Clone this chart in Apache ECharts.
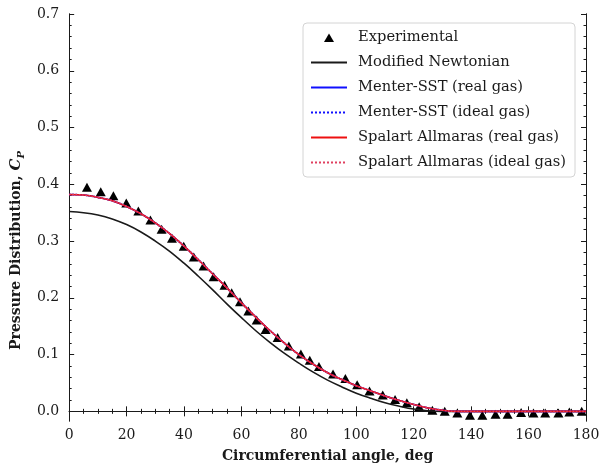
<!DOCTYPE html>
<html><head><meta charset="utf-8">
<script src="https://cdn.jsdelivr.net/npm/echarts@6/dist/echarts.min.js"></script>
<style>html,body{margin:0;padding:0;background:#fff}#c{width:606px;height:470px}</style>
</head><body><div id="c"></div>
<script>
// ---------- data ----------
const expAngle = [6.2, 11.0, 15.4, 19.9, 24.1, 28.3, 32.2, 35.8, 39.9, 43.4, 46.8, 50.3, 54.1, 56.6, 59.5, 62.4, 65.3, 68.4, 72.6, 76.5, 80.7, 83.8, 87.0, 91.9, 96.2, 100.3, 104.6, 109.2, 113.5, 117.6, 121.9, 126.5, 130.8, 135.2, 139.6, 143.9, 148.5, 152.7, 157.4, 161.7, 165.8, 170.4, 174.2, 178.5];
const expCp    = [0.395, 0.387, 0.380, 0.367, 0.353, 0.337, 0.321, 0.305, 0.291, 0.272, 0.256, 0.237, 0.222, 0.209, 0.193, 0.177, 0.161, 0.144, 0.130, 0.115, 0.101, 0.090, 0.079, 0.066, 0.058, 0.047, 0.036, 0.029, 0.021, 0.015, 0.008, 0.002, 0.000, -0.003, -0.007, -0.007, -0.005, -0.005, -0.002, -0.003, -0.003, -0.003, -0.001, 0.000];

const curveAngle = [0, 5, 10, 15, 20, 25, 30, 35, 40, 45, 50, 55, 60, 65, 70, 75, 80, 85, 90, 95, 100, 105, 110, 115, 120, 125, 130, 135, 140, 150, 160, 170, 180];
const newtonian   = [0.352, 0.350, 0.346, 0.339, 0.329, 0.316, 0.300, 0.282, 0.261, 0.238, 0.214, 0.189, 0.165, 0.142, 0.121, 0.102, 0.085, 0.069, 0.055, 0.043, 0.032, 0.023, 0.015, 0.009, 0.004, 0.001, 0.000, 0.000, 0.000, 0.000, 0.000, 0.000, 0.000];
const menterReal  = [0.382, 0.381, 0.377, 0.371, 0.361, 0.348, 0.332, 0.313, 0.291, 0.267, 0.242, 0.217, 0.191, 0.166, 0.142, 0.120, 0.100, 0.083, 0.068, 0.056, 0.045, 0.036, 0.027, 0.019, 0.012, 0.006, 0.002, 0.000, 0.000, 0.000, 0.000, 0.000, 0.000];
const menterIdeal = [0.382, 0.381, 0.377, 0.371, 0.361, 0.348, 0.332, 0.313, 0.291, 0.267, 0.242, 0.217, 0.191, 0.166, 0.142, 0.120, 0.100, 0.083, 0.068, 0.056, 0.045, 0.036, 0.027, 0.019, 0.012, 0.006, 0.002, 0.000, 0.000, 0.000, 0.000, 0.000, 0.000];
const saReal      = [0.382, 0.381, 0.377, 0.371, 0.361, 0.348, 0.332, 0.313, 0.291, 0.267, 0.242, 0.217, 0.191, 0.166, 0.142, 0.120, 0.100, 0.083, 0.068, 0.056, 0.045, 0.036, 0.027, 0.019, 0.012, 0.006, 0.002, 0.000, 0.000, 0.000, 0.000, 0.000, 0.000];
const saIdeal     = [0.382, 0.381, 0.377, 0.371, 0.361, 0.348, 0.332, 0.313, 0.291, 0.267, 0.242, 0.217, 0.191, 0.166, 0.142, 0.120, 0.100, 0.083, 0.068, 0.056, 0.045, 0.036, 0.027, 0.019, 0.012, 0.006, 0.002, 0.000, 0.000, 0.000, 0.000, 0.000, 0.000];

const seriesNames = ['Experimental', 'Modified Newtonian', 'Menter-SST (real gas)', 'Menter-SST (ideal gas)', 'Spalart Allmaras (real gas)', 'Spalart Allmaras (ideal gas)'];
const yTicks = [0.0, 0.1, 0.2, 0.3, 0.4, 0.5, 0.6, 0.7];
const yMinorTicks = [];
for (let k = 1; k < 35; k++) { if (k % 5 !== 0) yMinorTicks.push(+(k * 0.02).toFixed(2)); }

// ---------- chart ----------
const FONT = 'DejaVu Serif';
const INK = '#1a1a1a';
const pair = (xs, ys) => xs.map((x, i) => [x, ys[i]]);

const chart = echarts.init(document.getElementById('c'), null, {renderer: 'canvas'});

const yBase = {
  type: 'value', min: -0.017, max: 0.7, gridIndex: 0,
  splitLine: {show: false},
  axisLine: {show: true, lineStyle: {color: INK, width: 1}}
};

const lineSeries = (name, data, color, type) => ({
  name, type: 'line', data: pair(curveAngle, data), symbol: 'none',
  smooth: 0.4, clip: true,
  lineStyle: {color, width: 1.6, type}, itemStyle: {color}
});

chart.setOption({
  animation: false,
  backgroundColor: '#ffffff',
  grid: {left: 66, right: 20, top: 14, bottom: 49},
  xAxis: [
    {
      type: 'value', min: 0, max: 180, interval: 20, position: 'bottom',
      name: 'Circumferential angle, deg', nameLocation: 'middle', nameGap: 28,
      nameTextStyle: {fontFamily: FONT, fontWeight: 'bold', fontSize: 14, color: INK},
      axisLine: {lineStyle: {color: INK, width: 1}},
      axisTick: {inside: true, length: 5, lineStyle: {color: INK}},
      minorTick: {show: true, splitNumber: 4, length: 2.5, lineStyle: {color: INK}},
      axisLabel: {fontFamily: FONT, fontSize: 14, color: INK, margin: 7},
      splitLine: {show: false}, minorSplitLine: {show: false}
    },
    {
      type: 'value', min: 0, max: 180, interval: 20, position: 'top',
      axisLine: {lineStyle: {color: INK, width: 1}},
      axisTick: {inside: true, length: 5, lineStyle: {color: INK}},
      minorTick: {show: true, splitNumber: 4, length: 2.5, lineStyle: {color: INK}},
      axisLabel: {show: false}, splitLine: {show: false}
    }
  ],
  yAxis: [
    Object.assign({}, yBase, {
      position: 'left',
      name: '{t|Pressure Distribution, }{c|C}{s|P}', nameLocation: 'middle', nameGap: 35, nameRotate: 90,
      nameTextStyle: {
        fontFamily: FONT, fontWeight: 'bold', fontSize: 14, color: INK,
        padding: [0, 66, 0, 0],
        rich: {
          t: {fontFamily: FONT, fontWeight: 'bold', fontSize: 14, color: INK, lineHeight: 20},
          c: {fontFamily: FONT, fontStyle: 'italic', fontWeight: 'bold', fontSize: 15, color: INK, lineHeight: 20},
          s: {fontFamily: FONT, fontStyle: 'italic', fontWeight: 'bold', fontSize: 10, color: INK, lineHeight: 20, verticalAlign: 'bottom', padding: [8, 0, 0, 0]}
        }
      },
      axisTick: {inside: true, length: 5, lineStyle: {color: INK}, customValues: yTicks},
      axisLabel: {fontFamily: FONT, fontSize: 14, color: INK, margin: 10, customValues: yTicks, formatter: v => v.toFixed(1)}
    }),
    Object.assign({}, yBase, {
      position: 'left',
      axisTick: {inside: true, length: 2.5, lineStyle: {color: INK}, customValues: yMinorTicks},
      axisLabel: {show: false, customValues: yMinorTicks}
    }),
    Object.assign({}, yBase, {
      position: 'right',
      axisTick: {inside: true, length: 5, lineStyle: {color: INK}, customValues: yTicks},
      axisLabel: {show: false, customValues: yTicks}
    }),
    Object.assign({}, yBase, {
      position: 'right',
      axisTick: {inside: true, length: 2.5, lineStyle: {color: INK}, customValues: yMinorTicks},
      axisLabel: {show: false, customValues: yMinorTicks}
    })
  ],
  legend: {
    orient: 'vertical', left: 303, top: 23,
    itemWidth: 36, itemHeight: 14, itemGap: 10,
    padding: [7, 9, 7, 7],
    backgroundColor: 'rgba(255,255,255,0.85)',
    borderColor: '#d4d4d4', borderWidth: 1, borderRadius: 4,
    textStyle: {fontFamily: FONT, fontSize: 14.7, color: INK, padding: [0, 0, 0, 6]},
    data: [
      {name: seriesNames[0], icon: 'path://M0,0M36,14M13,11.5L18,3L23,11.5Z', itemStyle: {opacity: 1, color: '#000'}},
      {name: seriesNames[1], itemStyle: {opacity: 0}},
      {name: seriesNames[2], itemStyle: {opacity: 0}},
      {name: seriesNames[3], itemStyle: {opacity: 0}},
      {name: seriesNames[4], itemStyle: {opacity: 0}},
      {name: seriesNames[5], itemStyle: {opacity: 0}}
    ]
  },
  series: [
    {
      name: seriesNames[0], type: 'scatter', data: pair(expAngle, expCp),
      symbol: 'triangle', symbolSize: [10, 9], clip: false,
      itemStyle: {color: '#000000', opacity: 1}
    },
    lineSeries(seriesNames[1], newtonian, '#1a1a1a', 'solid'),
    lineSeries(seriesNames[2], menterReal, '#1010ff', 'solid'),
    lineSeries(seriesNames[3], menterIdeal, '#1010ff', 'dotted'),
    lineSeries(seriesNames[4], saReal, '#ee1010', 'solid'),
    lineSeries(seriesNames[5], saIdeal, '#e04060', 'dotted')
  ]
});
</script></body></html>
